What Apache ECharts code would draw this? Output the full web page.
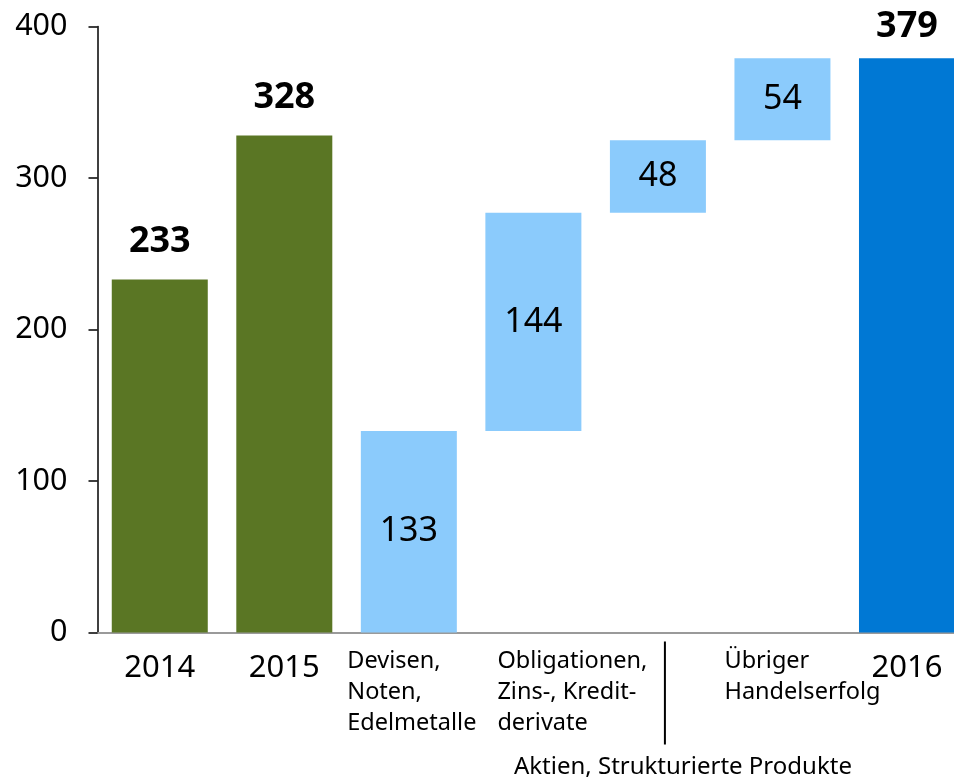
<!DOCTYPE html>
<html>
<head>
<meta charset="utf-8">
<script src="https://cdn.jsdelivr.net/npm/echarts@6/dist/echarts.min.js"></script>
<style>html,body{margin:0;padding:0;background:#fff;overflow:hidden;width:954px;height:780px}#c{width:970px;height:780px}</style>
</head>
<body>
<div id="c"></div>
<script>
// ---- data ----
const categories = ['2014', '2015', 'Devisen, Noten, Edelmetalle', 'Obligationen, Zins-, Kreditderivate', 'Aktien, Strukturierte Produkte', 'Übriger Handelserfolg', '2016'];
const labelLines = [['2014'], ['2015'], ['Devisen,', 'Noten,', 'Edelmetalle'], ['Obligationen,', 'Zins-, Kredit-', 'derivate'], ['Aktien, Strukturierte Produkte'], ['Übriger', 'Handelserfolg'], ['2016']];
const values = [233, 328, 133, 144, 48, 54, 379];
const kinds = ['total', 'total', 'delta', 'delta', 'delta', 'delta', 'total'];
const yTicks = [0, 100, 200, 300, 400];

// ---- derived ----
let run = 0;
const base = values.map((v, i) => {
  if (kinds[i] === 'delta') { const b = run; run += v; return b; }
  return 0;
});
const FONT = 'Noto Sans';
const colorFor = i => kinds[i] === 'delta' ? '#8bcbfc' : (categories[i] === '2016' ? '#0078d4' : '#5a7624');
// label style key per category (layout only)
const labelStyleKey = ['yr', 'yr', 'm0', 'm1', 'ak', 'm2', 'yr'];

const chart = echarts.init(document.getElementById('c'), null, {renderer: 'canvas'});
const option = {
  animation: false,
  grid: {left: 97.5, right: 0.75, top: 26.5, bottom: 147.5, containLabel: false},
  xAxis: {
    type: 'category',
    data: categories,
    axisLine: {lineStyle: {color: '#9a9a9a', width: 2}},
    axisTick: {show: false},
    axisLabel: {
      interval: 0,
      margin: 13,
      color: '#000',
      fontFamily: FONT,
      formatter: (v, i) => {
        const k = labelStyleKey[i];
        return labelLines[i].map(l => '{' + k + '|' + l + '}').join('\n');
      },
      rich: {
        yr: {fontSize: 31, lineHeight: 46, fontFamily: FONT, color: '#000'},
        m0: {fontSize: 23.5, lineHeight: 31, fontFamily: FONT, color: '#000', align: 'left', padding: [0, 0, 0, 6]},
        m1: {fontSize: 23.5, lineHeight: 31, fontFamily: FONT, color: '#000', align: 'left', padding: [0, 0, 0, 78]},
        m2: {fontSize: 23.5, lineHeight: 31, fontFamily: FONT, color: '#000', align: 'left', padding: [0, 0, 0, 40]},
        ak: {fontSize: 24, lineHeight: 243, fontFamily: FONT, color: '#000', align: 'left', padding: [0, 0, 0, 50]}
      }
    }
  },
  yAxis: {
    type: 'value',
    min: 0, max: 400, interval: 100,
    splitLine: {show: false},
    axisLine: {show: true, lineStyle: {color: '#000', width: 1.5}},
    axisTick: {show: true, inside: false, length: 9, lineStyle: {color: '#000', width: 1.5}},
    axisLabel: {
      margin: 30, fontSize: 30.5, color: '#000', fontFamily: FONT,
      formatter: v => yTicks.includes(v) ? String(v) : ''
    }
  },
  series: [
    {
      type: 'bar', stack: 'w', barWidth: 96, silent: true,
      itemStyle: {color: 'transparent'},
      data: base
    },
    {
      type: 'bar', stack: 'w', barWidth: 96,
      data: values.map((v, i) => ({
        value: v,
        itemStyle: {color: colorFor(i)},
        label: kinds[i] === 'delta'
          ? {show: true, position: 'inside', fontSize: 34, fontFamily: FONT, color: '#000', fontWeight: 'normal'}
          : {show: true, position: 'top', distance: i === values.length - 1 ? 14 : 20, fontSize: 36, fontFamily: FONT, color: '#000', fontWeight: 'bold'}
      }))
    }
  ]
};
chart.setOption(option);

// separator line below the "Aktien" category, positioned from the axis
const ai = 4;
const px = chart.convertToPixel({xAxisIndex: 0}, categories[ai]);
const y0 = chart.convertToPixel({yAxisIndex: 0}, 0);
chart.setOption({
  graphic: [{
    type: 'line', silent: true,
    shape: {x1: px + 7, y1: y0 + 9, x2: px + 7, y2: y0 + 112},
    style: {stroke: '#000', lineWidth: 2}
  }]
});
</script>
</body>
</html>
